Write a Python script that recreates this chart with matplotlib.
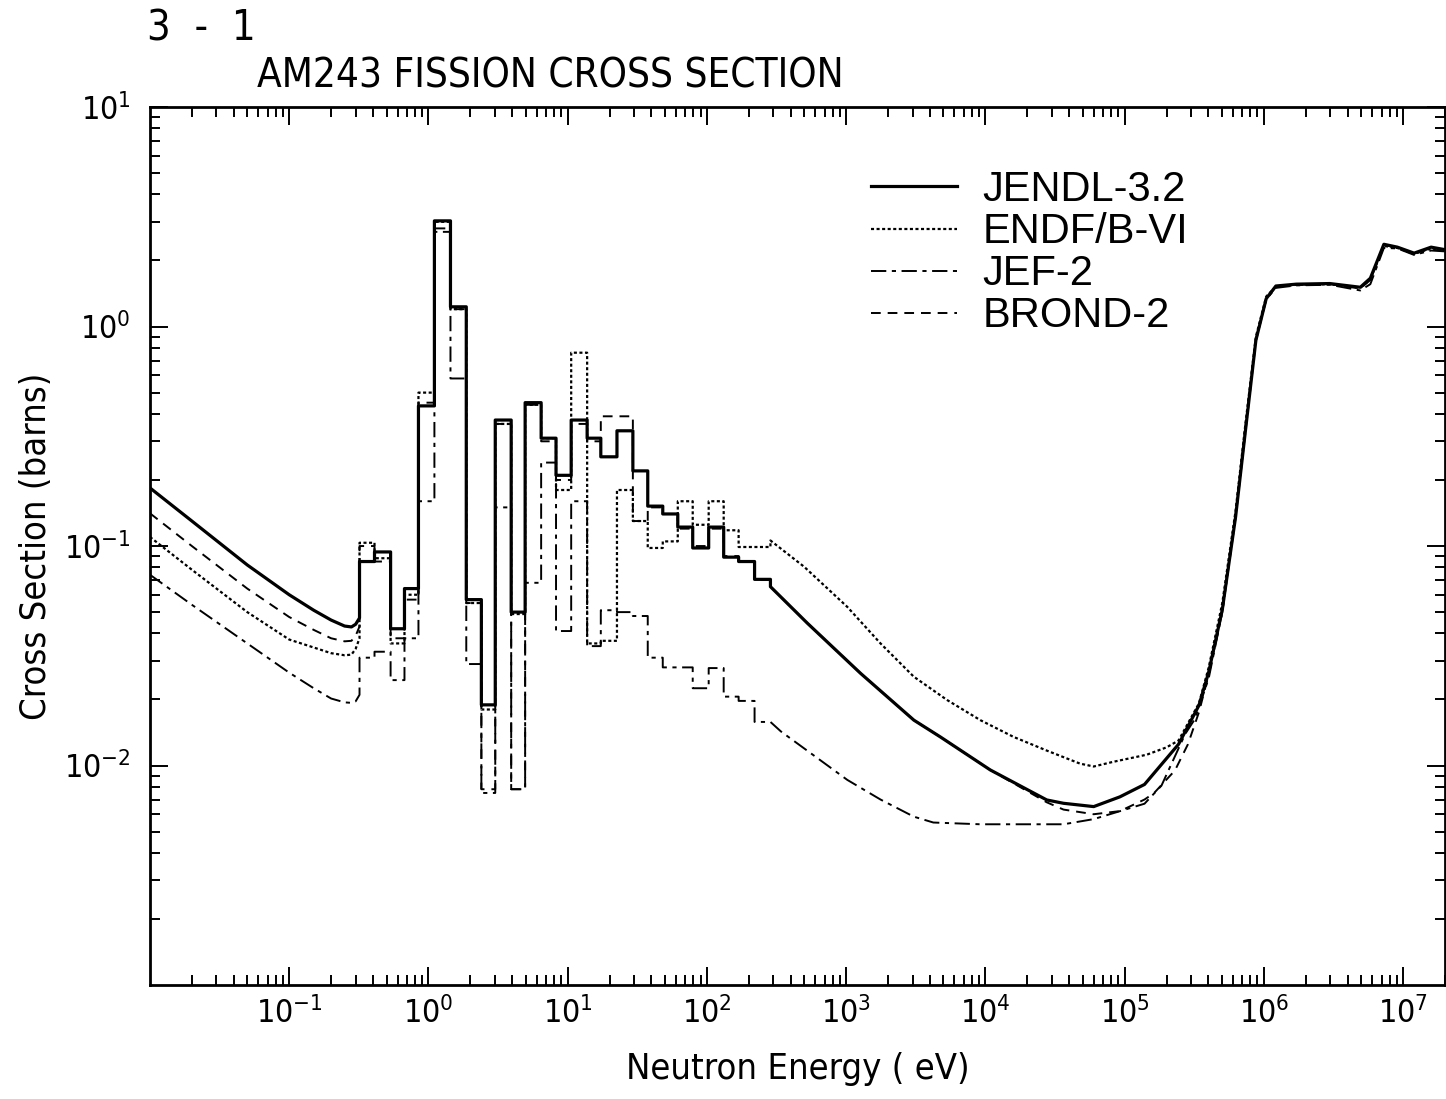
import matplotlib
matplotlib.use("Agg")
import matplotlib.pyplot as plt
from matplotlib.ticker import LogLocator, NullFormatter

plt.rcParams["lines.scale_dashes"] = False
plt.rcParams["mathtext.default"] = "regular"
plt.rcParams["font.family"] = ["DejaVu Sans"]
plt.rcParams["font.stretch"] = "condensed"

# group boundaries of the resolved resonance region (eV)
group_edges = [0.32, 0.41, 0.535, 0.673, 0.848, 1.104, 1.44, 1.87, 2.40, 3.02,
               3.93, 4.95, 6.45, 8.25, 10.6, 13.8, 17.3, 22.6, 29.4, 37.6,
               48.2, 61.8, 79.1, 103, 132, 169, 220, 286]

# thermal (1/v) part, common energy grid (eV)
thermal_e = [0.01, 0.02, 0.05, 0.1, 0.15, 0.2, 0.25, 0.28, 0.30, 0.32]
jendl_th = [0.184, 0.130, 0.082, 0.060, 0.051, 0.046, 0.0432, 0.0428, 0.044, 0.047]
endf_th = [0.110, 0.078, 0.050, 0.0375, 0.0345, 0.0325, 0.0318, 0.032, 0.034, 0.038]
jef_th = [0.074, 0.054, 0.036, 0.0265, 0.0225, 0.0202, 0.0194, 0.0193, 0.0196, 0.021]
brond_th = [0.141, 0.100, 0.064, 0.0475, 0.0415, 0.038, 0.0368, 0.037, 0.039, 0.043]

# group-averaged cross sections in the resonance region (barns)
jendl_res = [0.085, 0.094, 0.042, 0.064, 0.435, 3.03, 1.23, 0.057, 0.0189, 0.375,
             0.050, 0.45, 0.31, 0.21, 0.375, 0.31, 0.255, 0.335, 0.22, 0.152,
             0.14, 0.122, 0.098, 0.122, 0.089, 0.085, 0.0705]
endf_res = [0.1035, 0.088, 0.036, 0.060, 0.50, 3.0, 1.2, 0.055, 0.018, 0.36,
            0.049, 0.44, 0.31, 0.18, 0.76, 0.036, 0.037, 0.18, 0.13, 0.098,
            0.105, 0.16, 0.125, 0.16, 0.118, 0.099, 0.099]
jef_res = [0.031, 0.033, 0.0245, 0.038, 0.16, 2.7, 0.58, 0.029, 0.0075, 0.15,
           0.0078, 0.068, 0.24, 0.041, 0.16, 0.035, 0.051, 0.050, 0.048, 0.031,
           0.028, 0.028, 0.0225, 0.0278, 0.0206, 0.0197, 0.0158]
brond_res = [0.10, 0.085, 0.038, 0.057, 0.45, 2.8, 1.2, 0.055, 0.0078, 0.36,
             0.0078, 0.44, 0.30, 0.20, 0.36, 0.30, 0.39, 0.39, 0.13, 0.15,
             0.14, 0.12, 0.10, 0.12, 0.09, 0.085, 0.07]

# unresolved / fast region
jendl_fast_e = [286, 527, 1270, 3065, 4750, 10840, 27600, 36400, 60000, 92500,
                1.39e5, 2.44e5, 3.42e5, 4.02e5, 5.03e5, 6.27e5, 7.41e5, 8.77e5,
                1.04e6, 1.22e6, 1.71e6, 2.98e6, 4.93e6, 5.82e6, 7.28e6, 9.1e6,
                1.2e7, 1.59e7, 2.0e7]
jendl_fast = [0.0653, 0.0445, 0.0263, 0.0161, 0.0135, 0.00955, 0.00697, 0.00673,
              0.0065, 0.0072, 0.0082, 0.0125, 0.0188, 0.0267, 0.0513, 0.136,
              0.344, 0.867, 1.34, 1.53, 1.56, 1.57, 1.51, 1.66, 2.37, 2.30,
              2.16, 2.30, 2.24]

endf_fast_e = [286, 499, 1020, 1766, 3060, 5300, 9200, 15950, 27600, 47900,
               60000, 83000, 1.44e5, 2.0e5, 2.44e5, 3.42e5, 4.02e5, 5.03e5,
               6.27e5, 7.41e5, 8.77e5, 1.04e6, 1.22e6, 1.71e6, 2.98e6, 4.93e6,
               5.82e6, 7.28e6, 9.1e6, 1.2e7, 1.59e7, 2.0e7]
endf_fast = [0.106, 0.0805, 0.0528, 0.036, 0.0254, 0.0199, 0.0161, 0.0135,
             0.0117, 0.0102, 0.0099, 0.0104, 0.0112, 0.0121, 0.0130, 0.0192,
             0.028, 0.055, 0.145, 0.37, 0.9, 1.37, 1.52, 1.55, 1.56, 1.50,
             1.64, 2.33, 2.28, 2.14, 2.27, 2.22]

jef_fast_e = [286, 340, 1020, 1766, 3060, 4230, 9200, 36400, 60000, 1.39e5,
              1.84e5, 2.72e5, 3.2e5, 4.02e5, 5.03e5, 6.27e5, 7.41e5, 8.77e5,
              1.04e6, 1.22e6, 1.71e6, 2.98e6, 4.93e6, 5.82e6, 7.28e6, 9.1e6,
              1.2e7, 1.59e7, 2.0e7]
jef_fast = [0.0158, 0.0143, 0.0086, 0.0070, 0.00585, 0.0055, 0.0054, 0.0054,
            0.0057, 0.0067, 0.0081, 0.0139, 0.0163, 0.025, 0.050, 0.14, 0.36,
            0.88, 1.33, 1.50, 1.54, 1.55, 1.46, 1.56, 2.28, 2.27, 2.12, 2.22, 2.20]

brond_fast_e = [286, 527, 1270, 3065, 4750, 10840, 27600, 36400, 60000, 92500,
                1.39e5, 1.63e5, 2.3e5, 2.85e5, 3.42e5, 4.02e5, 5.03e5, 6.27e5,
                7.41e5, 8.77e5, 1.04e6, 1.22e6, 1.71e6, 2.98e6, 4.93e6, 5.82e6,
                7.28e6, 9.1e6, 1.2e7, 1.59e7, 2.0e7]
brond_fast = [0.0653, 0.0445, 0.0263, 0.0161, 0.0135, 0.00955, 0.0068, 0.0063,
              0.0060, 0.0062, 0.0070, 0.0075, 0.0095, 0.0125, 0.0175, 0.026,
              0.050, 0.135, 0.34, 0.86, 1.33, 1.52, 1.55, 1.56, 1.49, 1.63,
              2.35, 2.29, 2.15, 2.28, 2.23]


def build_curve(th, res, fast_e, fast):
    e = list(thermal_e)
    s = list(th)
    for lo, hi, v in zip(group_edges[:-1], group_edges[1:], res):
        e += [lo, hi]
        s += [v, v]
    e += fast_e
    s += fast
    return e, s


fig = plt.figure(figsize=(14.46, 10.99), dpi=100)
ax = fig.add_axes([0.1037, 0.1037, 0.8956, 0.7989])

styles = [
    ("JEF-2", jef_th, jef_res, jef_fast_e, jef_fast, dict(lw=1.4, dashes=(11, 4, 3, 4))),
    ("BROND-2", brond_th, brond_res, brond_fast_e, brond_fast, dict(lw=1.4, dashes=(7, 5))),
    ("ENDF/B-VI", endf_th, endf_res, endf_fast_e, endf_fast, dict(lw=1.6, dashes=(2.2, 1.8))),
    ("JENDL-3.2", jendl_th, jendl_res, jendl_fast_e, jendl_fast, dict(lw=2.3, linestyle="-")),
]
handles = {}
for name, th, res, fe, fv, kw in styles:
    e, s = build_curve(th, res, fe, fv)
    line, = ax.plot(e, s, color="black", label=name, **kw)
    handles[name] = line

ax.set_xscale("log")
ax.set_yscale("log")
ax.set_xlim(0.01, 2e7)
ax.set_ylim(1e-3, 10)
ax.set_xticks([1e-1, 1, 1e1, 1e2, 1e3, 1e4, 1e5, 1e6, 1e7])
ax.set_yticks([1e-2, 1e-1, 1, 10])
ax.xaxis.set_minor_locator(LogLocator(base=10, subs=range(2, 10), numticks=20))
ax.yaxis.set_minor_locator(LogLocator(base=10, subs=range(2, 10), numticks=20))
ax.xaxis.set_minor_formatter(NullFormatter())
ax.yaxis.set_minor_formatter(NullFormatter())
ax.tick_params(which="both", direction="in", top=True, right=True, width=1.4)
ax.tick_params(which="major", length=13, labelsize=23)
ax.tick_params(axis="x", which="major", pad=9)
ax.tick_params(axis="y", which="major", pad=14)
ax.tick_params(which="minor", length=7)
for sp in ax.spines.values():
    sp.set_linewidth(2)

ax.set_xlabel("Neutron Energy ( eV)", fontsize=26, labelpad=16)
ax.set_ylabel("Cross Section (barns)", fontsize=26, labelpad=8)

fig.text(0.102, 0.9636, "3  -  1", fontsize=30, va="baseline")
fig.text(0.178, 0.920, "AM243 FISSION CROSS SECTION", fontsize=29, va="baseline")

order = ["JENDL-3.2", "ENDF/B-VI", "JEF-2", "BROND-2"]
ax.legend([handles[k] for k in order], order, loc="upper left",
          bbox_to_anchor=(0.541, 0.952), frameon=False,
          prop=dict(family="Liberation Sans", size=30, stretch="normal"),
          handlelength=2.05, handletextpad=0.62, labelspacing=0.05, borderpad=0)

fig.savefig("out.png", dpi=100)
